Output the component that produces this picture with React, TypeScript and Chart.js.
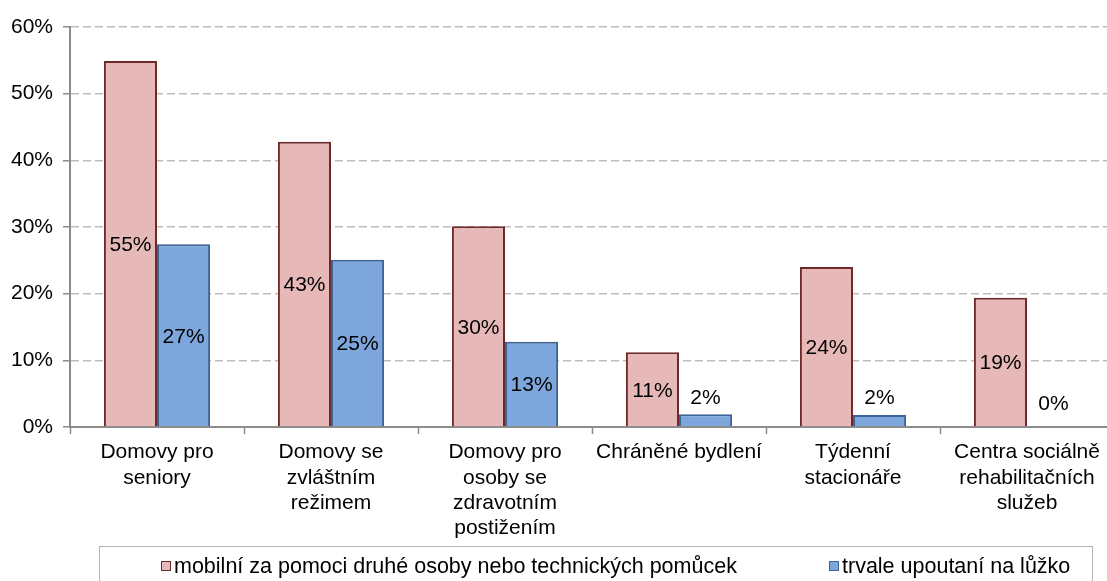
import React, { useEffect, useRef } from 'react';
import { Chart, registerables } from 'chart.js';

Chart.register(...registerables);

const FONT = '"Liberation Sans", Arial, sans-serif';

const categories: string[][] = [
  ['Domovy pro', 'seniory'],
  ['Domovy se', 'zvláštním', 'režimem'],
  ['Domovy pro', 'osoby se', 'zdravotním', 'postižením'],
  ['Chráněné bydlení'],
  ['Týdenní', 'stacionáře'],
  ['Centra sociálně', 'rehabilitačních', 'služeb'],
];
const mobileValues = [54.9, 42.8, 30.1, 11.2, 24.0, 19.4];
const bedriddenValues = [27.4, 25.1, 12.8, 1.9, 1.8, 0];
const seriesNames = [
  'mobilní za pomoci druhé osoby nebo technických pomůcek',
  'trvale upoutaní na lůžko',
];
const yTickValues = [0, 10, 20, 30, 40, 50, 60];

const PINK_FILL = '#E6B9B8';
const PINK_BORDER = '#6E2A2A';
const BLUE_FILL = '#7DA7DC';
const BLUE_BORDER = '#3D6496';
const AXIS = '#8C8C8C';
const GRID = '#BDBDBD';

const labelPlugin = {
  id: 'barLabels',
  afterDatasetsDraw(chart: any) {
    const ctx = chart.ctx;
    ctx.save();
    ctx.font = `21px ${FONT}`;
    ctx.fillStyle = '#000';
    ctx.textAlign = 'center';
    ctx.textBaseline = 'middle';
    chart.data.datasets.forEach((ds: any, di: number) => {
      const meta = chart.getDatasetMeta(di);
      meta.data.forEach((bar: any, i: number) => {
        const v = ds.data[i] as number;
        const { x, y, base } = bar.getProps(['x', 'y', 'base'], true);
        const h = base - y;
        let ty = (y + base) / 2;
        if (h < 30) ty = Math.min(y - 18, base - 24);
        ctx.fillText(Math.round(v) + '%', x, ty + 1.5);
      });
    });
    ctx.restore();
  },
};

export default function App() {
  const ref = useRef<HTMLCanvasElement | null>(null);

  useEffect(() => {
    if (!ref.current) return;
    const chart = new Chart(ref.current, {
      type: 'bar',
      data: {
        labels: categories,
        datasets: [
          {
            label: seriesNames[0],
            data: mobileValues,
            backgroundColor: PINK_FILL,
            borderColor: PINK_BORDER,
            borderWidth: 2,
            categoryPercentage: 0.61,
            barPercentage: 1,
          },
          {
            label: seriesNames[1],
            data: bedriddenValues,
            backgroundColor: BLUE_FILL,
            borderColor: BLUE_BORDER,
            borderWidth: 2,
            categoryPercentage: 0.61,
            barPercentage: 1,
          },
        ],
      },
      options: {
        animation: false,
        responsive: true,
        maintainAspectRatio: false,
        layout: { padding: { top: 27, left: 0, right: 0, bottom: 0 } },
        plugins: {
          legend: { display: false },
          tooltip: { enabled: false },
        },
        scales: {
          x: {
            afterFit: (scale: any) => {
              scale.height = 154;
            },
            grid: {
              display: true,
              drawOnChartArea: false,
              drawTicks: true,
              offset: true,
              tickLength: 7,
              tickColor: AXIS,
              tickWidth: 1.5,
            },
            border: { display: true, color: AXIS, width: 2 },
            ticks: {
              color: '#000',
              font: { family: FONT, size: 21, lineHeight: 1.2 },
              padding: 6,
              maxRotation: 0,
              minRotation: 0,
              autoSkip: false,
            },
          },
          y: {
            min: 0,
            max: 60,
            afterFit: (scale: any) => {
              scale.width = 70;
            },
            afterBuildTicks: (scale: any) => {
              scale.ticks = yTickValues.map((v) => ({ value: v }));
            },
            grid: {
              color: GRID,
              lineWidth: 1.5,
              drawTicks: true,
              tickLength: 7,
              tickColor: AXIS,
              tickWidth: 1.5,
            },
            border: { display: true, color: AXIS, width: 2, dash: [8, 4] },
            ticks: {
              color: '#000',
              font: { family: FONT, size: 21 },
              padding: 10,
              callback: (v: any) => v + '%',
            },
          },
        },
      },
      plugins: [labelPlugin],
    });
    return () => chart.destroy();
  }, []);

  const swatch = (fill: string, border: string) => (
    <span
      style={{
        display: 'inline-block',
        width: 8,
        height: 8,
        background: fill,
        border: `1.5px solid ${border}`,
        marginRight: 3,
        verticalAlign: 'middle',
        position: 'relative',
        top: -1,
      }}
    />
  );

  const itemStyle = {
    position: 'absolute' as const,
    top: 554,
    fontFamily: FONT,
    fontSize: 21.5,
    lineHeight: '25px',
    color: '#000',
    whiteSpace: 'nowrap' as const,
  };

  return (
    <div
      style={{
        position: 'fixed',
        left: 0,
        top: 0,
        width: 1107,
        height: 581,
        overflow: 'hidden',
        background: '#fff',
      }}
    >
      <div style={{ position: 'relative', width: 1114, height: 581 }}>
        <canvas ref={ref} />
        <div
          style={{
            position: 'absolute',
            left: 99,
            top: 546,
            width: 994,
            height: 60,
            border: '1.5px solid #B4B4B4',
            boxSizing: 'border-box',
          }}
        />
        <div style={{ ...itemStyle, left: 161 }}>
          {swatch(PINK_FILL, PINK_BORDER)}
          {seriesNames[0]}
        </div>
        <div style={{ ...itemStyle, left: 829 }}>
          {swatch(BLUE_FILL, BLUE_BORDER)}
          {seriesNames[1]}
        </div>
      </div>
    </div>
  );
}
